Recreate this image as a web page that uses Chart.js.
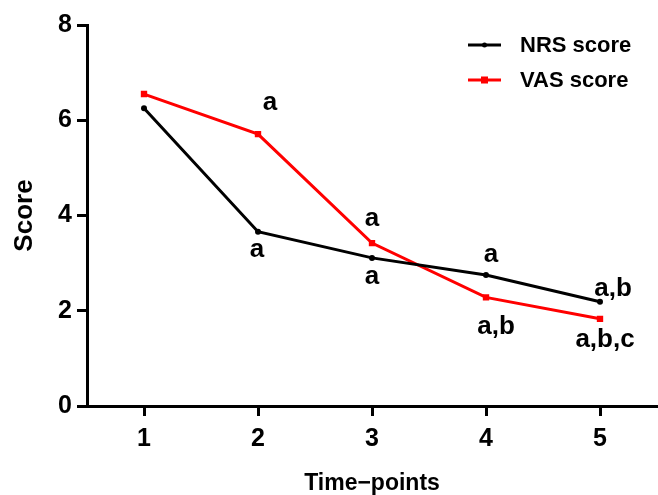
<!DOCTYPE html>
<html>
<head>
<meta charset="utf-8">
<script src="https://cdn.jsdelivr.net/npm/chart.js@4"></script>
<style>
html,body{margin:0;padding:0;background:#fff;}
#wrap{width:658px;height:495px;position:relative;}
</style>
</head>
<body>
<div id="wrap"><canvas id="c" width="658" height="495"></canvas></div>
<script>
const categories = ['1', '2', '3', '4', '5'];
const nrsScores = [6.25, 3.66, 3.11, 2.75, 2.19];
const vasScores = [6.55, 5.71, 3.42, 2.28, 1.83];
const yTicks = [0, 2, 4, 6, 8];
const seriesNames = ['NRS score', 'VAS score'];
const nrsMarks = ['', 'a', 'a', 'a', 'a,b'];
const vasMarks = ['', 'a', 'a', 'a,b', 'a,b,c'];
// label placement relative to the point (pixels): [dx, baseline dy]
const nrsMarkOffsets = [[0,0], [-1,25], [0,26], [5,-13], [13,-6]];
const vasMarkOffsets = [[0,0], [12,-24], [0,-17], [10,37], [5,28]];

const FONT = "'Liberation Sans', Arial, Helvetica, sans-serif";

const annotatePlugin = {
  id: 'annot',
  afterDatasetsDraw(chart) {
    const ctx = chart.ctx;
    ctx.save();
    ctx.fillStyle = '#000';
    ctx.font = 'bold 26px ' + FONT;
    ctx.textAlign = 'center';
    ctx.textBaseline = 'alphabetic';
    const sets = [[0, nrsMarks, nrsMarkOffsets], [1, vasMarks, vasMarkOffsets]];
    sets.forEach(([di, marks, offs]) => {
      const meta = chart.getDatasetMeta(di);
      meta.data.forEach((pt, i) => {
        if (!marks[i]) return;
        ctx.fillText(marks[i], pt.x + offs[i][0], pt.y + offs[i][1]);
      });
    });
    // legend
    const items = [
      {name: seriesNames[0], color: '#000', style: 'circle', y: 45},
      {name: seriesNames[1], color: '#ff0000', style: 'rect', y: 80}
    ];
    ctx.font = 'bold 22px ' + FONT;
    ctx.textAlign = 'left';
    ctx.textBaseline = 'middle';
    items.forEach(it => {
      ctx.strokeStyle = it.color;
      ctx.fillStyle = it.color;
      ctx.lineWidth = 3;
      ctx.beginPath();
      ctx.moveTo(468, it.y);
      ctx.lineTo(501, it.y);
      ctx.stroke();
      if (it.style === 'circle') {
        ctx.beginPath();
        ctx.arc(484.5, it.y, 2.5, 0, Math.PI * 2);
        ctx.fill();
      } else {
        ctx.fillRect(481, it.y - 3.5, 7, 7);
      }
      ctx.fillStyle = '#000';
      ctx.fillText(it.name, 520, it.y + 1);
    });
    ctx.restore();
  }
};

new Chart(document.getElementById('c'), {
  type: 'line',
  data: {
    labels: categories,
    datasets: [
      {
        label: seriesNames[0],
        data: nrsScores,
        borderColor: '#000',
        backgroundColor: '#000',
        borderWidth: 3,
        pointStyle: 'circle',
        pointRadius: 3,
        pointBorderWidth: 0,
        tension: 0
      },
      {
        label: seriesNames[1],
        data: vasScores,
        borderColor: '#ff0000',
        backgroundColor: '#ff0000',
        borderWidth: 3,
        pointStyle: 'rect',
        pointRadius: 4.5,
        pointBorderWidth: 0,
        tension: 0
      }
    ]
  },
  options: {
    responsive: false,
    animation: false,
    devicePixelRatio: 1,
    layout: { autoPadding: false, padding: { top: 25, right: 1, left: 0, bottom: 0 } },
    plugins: { legend: { display: false }, tooltip: { enabled: false } },
    scales: {
      x: {
        type: 'category',
        offset: true,
        afterFit(s) { s.height = 89; s.paddingLeft = 0; s.paddingRight = 0; },
        border: { display: true, color: '#000', width: 3 },
        grid: { display: true, drawOnChartArea: false, drawTicks: true, tickLength: 10, tickColor: '#000', tickWidth: 3, offset: false },
        ticks: { color: '#000', font: { family: FONT, size: 25, weight: 'bold' }, padding: 8, maxRotation: 0 },
        title: { display: true, text: 'Time−points', color: '#000', font: { family: FONT, size: 23, weight: 'bold', lineHeight: 1 }, padding: 0 }
      },
      y: {
        min: 0,
        max: 8,
        afterFit(s) { s.width = 87; s.paddingTop = 0; s.paddingBottom = 0; },
        afterBuildTicks(s) { s.ticks = yTicks.map(v => ({ value: v })); },
        border: { display: true, color: '#000', width: 3 },
        grid: { display: true, drawOnChartArea: false, drawTicks: true, tickLength: 10, tickColor: '#000', tickWidth: 3 },
        ticks: { color: '#000', font: { family: FONT, size: 25, weight: 'bold' }, padding: 5 },
        title: { display: true, text: 'Score', color: '#000', font: { family: FONT, size: 26, weight: 'bold', lineHeight: 1 }, padding: { top: 12, bottom: 0 } }
      }
    }
  },
  plugins: [annotatePlugin]
});
</script>
</body>
</html>
